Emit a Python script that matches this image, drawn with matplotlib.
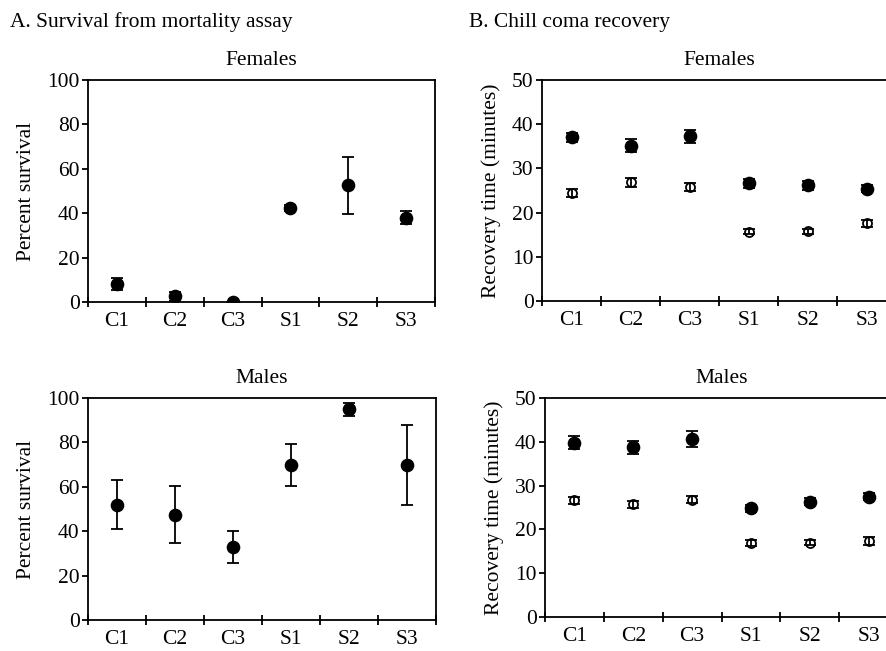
import matplotlib
matplotlib.use("Agg")
import matplotlib.pyplot as plt
import numpy as np

plt.rcParams['font.family'] = ['Liberation Serif', 'DejaVu Serif']

categories = ["C1", "C2", "C3", "S1", "S2", "S3"]

# A. Survival (percent)
surv_f = [8.0, 2.5, 0.0, 42.3, 52.5, 38.0]
surv_f_err = [2.7, 2.0, 0.0, 1.3, 12.7, 3.0]
surv_m = [51.9, 47.5, 32.8, 69.8, 94.9, 69.8]
surv_m_err = [11.0, 13.0, 7.3, 9.6, 3.0, 17.9]

# B. Chill coma recovery (minutes): filled and open series
rec_f_filled = [37.0, 35.1, 37.3, 26.6, 26.2, 25.4]
rec_f_filled_err = [1.1, 1.5, 1.5, 1.0, 1.0, 0.8]
rec_f_open = [24.5, 26.9, 25.8, 15.7, 15.8, 17.6]
rec_f_open_err = [0.9, 1.0, 0.8, 0.5, 0.6, 0.8]
rec_m_filled = [39.8, 38.7, 40.7, 24.8, 26.3, 27.4]
rec_m_filled_err = [1.5, 1.5, 1.8, 0.8, 0.8, 0.8]
rec_m_open = [26.7, 25.7, 26.8, 16.9, 17.0, 17.4]
rec_m_open_err = [0.8, 0.7, 0.8, 0.7, 0.6, 0.9]

W, H = 886, 651
fig = plt.figure(figsize=(W / 100, H / 100), dpi=100)

def ax_at(left, top, right, bottom):
    return fig.add_axes([left / W, 1 - bottom / H, (right - left) / W, (bottom - top) / H])

FS = 15.5
x = np.arange(len(categories)) + 0.5

def style(ax, ymax, ystep, title, ylabel):
    ax.set_xlim(0, len(categories))
    ax.set_ylim(0, ymax)
    ax.set_yticks(np.arange(0, ymax + 1, ystep))
    ax.set_xticks(np.arange(0, len(categories) + 1))
    ax.set_xticklabels([])
    ax.set_xticks(x, minor=True)
    ax.set_xticklabels(categories, minor=True)
    ax.tick_params(axis='x', which='major', direction='inout', length=7, width=1.3)
    ax.tick_params(axis='x', which='minor', length=0, pad=7.5, labelsize=FS)
    ax.tick_params(axis='y', direction='out', length=4, width=1.3, labelsize=FS, pad=2)
    for s in ax.spines.values():
        s.set_linewidth(1.3)
    ax.set_title(title, fontsize=FS, pad=11)
    ax.set_ylabel(ylabel, fontsize=FS, labelpad=8)

def eb(ax, y, e, filled, ms):
    ax.errorbar(x, y, yerr=e, fmt='o', ms=ms, mfc='black' if filled else 'none',
                mec='black', mew=1.3, ecolor='black', elinewidth=1.3, capsize=4.3,
                capthick=1.3, zorder=3)

# Top-left
a1 = ax_at(88, 80, 435, 302)
eb(a1, surv_f, surv_f_err, True, 8.5)
style(a1, 100, 20, "Females", "Percent survival")

# Bottom-left
a3 = ax_at(88, 398, 436, 620)
eb(a3, surv_m, surv_m_err, True, 8.5)
style(a3, 100, 20, "Males", "Percent survival")

# Top-right
a2 = ax_at(542, 80, 896, 301)
eb(a2, rec_f_open, rec_f_open_err, False, 6.5)
eb(a2, rec_f_filled, rec_f_filled_err, True, 8.5)
style(a2, 50, 10, "Females", "Recovery time (minutes)")

# Bottom-right
a4 = ax_at(545, 398, 898, 617)
eb(a4, rec_m_open, rec_m_open_err, False, 6.5)
eb(a4, rec_m_filled, rec_m_filled_err, True, 8.5)
style(a4, 50, 10, "Males", "Recovery time (minutes)")

fig.text(10 / W, 1 - 27 / H, "A. Survival from mortality assay", fontsize=FS, va='baseline', ha='left')
fig.text(469 / W, 1 - 27 / H, "B. Chill coma recovery", fontsize=FS, va='baseline', ha='left')

fig.savefig("out.png", dpi=100)
